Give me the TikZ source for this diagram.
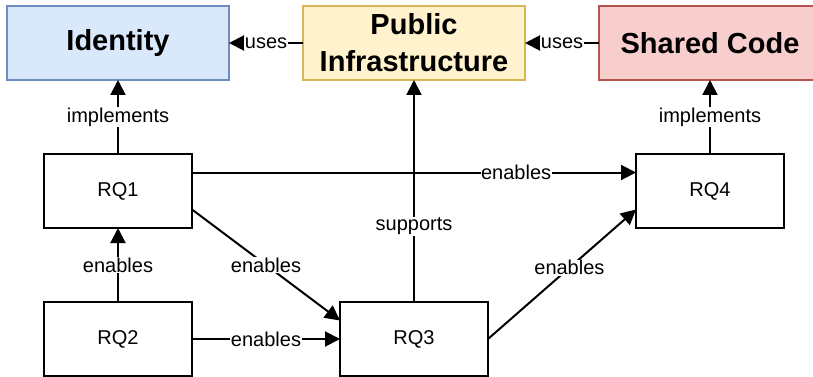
\documentclass[tikz,border=0pt]{standalone}
\usepackage{fontspec}
\setmainfont{Liberation Sans}
\usetikzlibrary{arrows.meta,calc}
\definecolor{idfill}{HTML}{DAE8FC}
\definecolor{idline}{HTML}{6C8EBF}
\definecolor{pifill}{HTML}{FFF2CC}
\definecolor{piline}{HTML}{D6B656}
\definecolor{scfill}{HTML}{F8CECC}
\definecolor{scline}{HTML}{B85450}
\begin{document}
\begin{tikzpicture}[x=1pt,y=-1pt,
  box/.style={draw, line width=2pt, minimum width=148pt, minimum height=74pt,
    inner sep=0pt, outer sep=0pt, font=\fontsize{20}{24}\selectfont},
  topbox/.style={box, minimum width=222pt, align=center,
    font=\fontsize{29}{37}\selectfont\bfseries},
  link/.style={line width=2pt, -{Triangle[length=15pt,width=15pt]}},
  lbl/.style={fill=white, inner sep=0.5pt, font=\fontsize{20}{24}\selectfont}]

\useasboundingbox (0,0) rectangle (813,377);

% top row: concerns
\node[topbox, fill=idfill, draw=idline] (id) at (118,43) {Identity};
\node[topbox, fill=pifill, draw=piline] (pi) at (414,43) {Public\\Infrastructure};
\node[topbox, fill=scfill, draw=scline] (sc) at (710,43) {Shared Code};

% research questions
\node[box] (rq1) at (118,191) {RQ1};
\node[box] (rq2) at (118,339) {RQ2};
\node[box] (rq3) at (414,339) {RQ3};
\node[box] (rq4) at (710,191) {RQ4};

% relations between concerns
\draw[link] (pi) -- node[lbl]{uses} (id);
\draw[link] (sc) -- node[lbl]{uses} (pi);

% research questions to concerns
\draw[link] (rq1) -- node[lbl]{implements} (id);
\draw[link] (rq4) -- node[lbl]{implements} (sc);
\draw[link] (rq3) -- node[lbl,pos=0.34]{supports} (pi);

% dependencies between research questions
\draw[link] (rq2) -- node[lbl]{enables} (rq1);
\draw[link] (rq2) -- node[lbl]{enables} (rq3);
\draw[link] ($(rq1.east)+(0,-18.5)$) -- node[lbl,pos=0.73]{enables} ($(rq4.west)+(0,-18.5)$);
\draw[link] ($(rq1.east)+(0,18.5)$) -- node[lbl]{enables} ($(rq3.west)+(0,-18.5)$);
\draw[link] (rq3.east) -- node[lbl,pos=0.55]{enables} ($(rq4.west)+(0,18.5)$);
\end{tikzpicture}
\end{document}
